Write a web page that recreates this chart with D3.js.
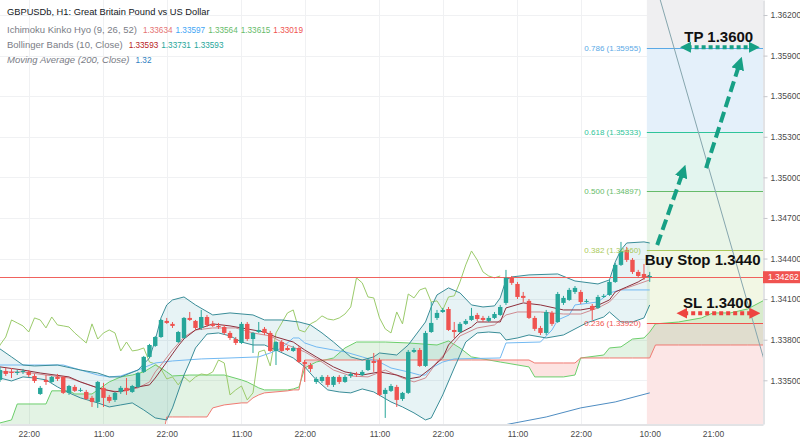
<!DOCTYPE html>
<html lang="en">
<head>
<meta charset="utf-8">
<script src="https://d3js.org/d3.v7.min.js"></script>
<style>
  body { margin: 0; background: #fff; }
  svg { display: block; font-family: "Liberation Sans", Arial, sans-serif; }
</style>
</head>
<body>
<svg id="chart" width="800" height="440"></svg>
<script>
// ---- hourly bars, index 0 = first visible bar ----
const opens = [
  1.33503,1.33569,1.33562,1.33554,1.33562,1.33562,1.33532,1.33399,1.33503,1.33488,
  1.33525,1.33525,1.33407,1.33451,1.33422,1.33414,1.33370,1.33340,1.33444,1.33377,
  1.33355,1.33414,1.33444,1.33414,1.33451,1.33562,1.33673,1.33754,1.33820,1.33939,
  1.33917,1.33783,1.33813,1.33961,1.33939,1.33887,1.33968,1.33917,1.33902,1.33894,
  1.33850,1.33805,1.33776,1.33917,1.33805,1.33857,1.33880,1.33850,1.33717,1.33783,
  1.33739,1.33717,1.33739,1.33635,1.33613,1.33488,1.33495,1.33525,1.33466,1.33525,
  1.33488,1.33532,1.33547,1.33539,1.33576,1.33643,1.33650,1.33399,1.33422,1.33451,
  1.33362,1.33407,1.33710,1.33724,1.33606,1.33857,1.33961,1.34005,1.34027,1.33872,
  1.33857,1.33917,1.33946,1.33983,1.33961,1.33939,1.33961,1.33983,1.34072,1.34257,
  1.34212,1.34124,1.34087,1.33961,1.33887,1.33850,1.33998,1.33931,1.34072,1.34094,
  1.34153,1.34153,1.34079,1.34050,1.34035,1.34116,1.34131,1.34227,1.34353,1.34464,
  1.34390,1.34301,1.34286,1.34264];
const highs = [
  1.33599,1.33591,1.33591,1.33576,1.33584,1.33576,1.33547,1.33458,1.33539,1.33532,
  1.33547,1.33532,1.33466,1.33466,1.33444,1.33429,1.33385,1.33495,1.33481,1.33392,
  1.33414,1.33458,1.33517,1.33466,1.33562,1.33680,1.33769,1.33828,1.33953,1.33961,
  1.33931,1.33865,1.33968,1.34005,1.33946,1.34020,1.33983,1.33939,1.33924,1.33909,
  1.33865,1.33820,1.33931,1.33931,1.33857,1.33931,1.33894,1.33865,1.33791,1.33798,
  1.33754,1.33754,1.33754,1.33650,1.33628,1.33525,1.33539,1.33539,1.33532,1.33539,
  1.33539,1.33562,1.33562,1.33576,1.33665,1.33702,1.33665,1.33444,1.33473,1.33466,
  1.33414,1.33724,1.33739,1.33739,1.33865,1.34079,1.34020,1.34035,1.34042,1.33931,
  1.33931,1.33953,1.34035,1.33998,1.33976,1.33976,1.34005,1.34057,1.34316,1.34271,
  1.34227,1.34153,1.34101,1.33976,1.33902,1.34020,1.34013,1.34153,1.34124,1.34183,
  1.34197,1.34168,1.34101,1.34064,1.34131,1.34138,1.34242,1.34367,1.34523,1.34486,
  1.34404,1.34316,1.34360,1.34301];
const lows = [
  1.33488,1.33532,1.33517,1.33539,1.33547,1.33525,1.33481,1.33392,1.33466,1.33481,
  1.33495,1.33399,1.33392,1.33414,1.33414,1.33355,1.33303,1.33296,1.33303,1.33333,
  1.33340,1.33399,1.33392,1.33407,1.33444,1.33554,1.33665,1.33747,1.33813,1.33917,
  1.33887,1.33776,1.33805,1.33939,1.33872,1.33872,1.33894,1.33894,1.33880,1.33835,
  1.33798,1.33761,1.33769,1.33791,1.33702,1.33850,1.33835,1.33710,1.33613,1.33710,
  1.33717,1.33710,1.33628,1.33488,1.33562,1.33473,1.33481,1.33451,1.33451,1.33473,
  1.33481,1.33517,1.33525,1.33532,1.33569,1.33562,1.33385,1.33222,1.33414,1.33303,
  1.33348,1.33399,1.33702,1.33599,1.33599,1.33850,1.33946,1.33998,1.33865,1.33813,
  1.33850,1.33909,1.33939,1.33939,1.33931,1.33931,1.33953,1.33976,1.34057,1.34205,
  1.34101,1.34079,1.33953,1.33865,1.33835,1.33835,1.33902,1.33924,1.34057,1.34087,
  1.34138,1.34064,1.34072,1.33946,1.34027,1.34109,1.34124,1.34220,1.34345,1.34375,
  1.34286,1.34257,1.34242,1.34227];
const closes = [
  1.33576,1.33547,1.33554,1.33562,1.33569,1.33539,1.33495,1.33444,1.33488,1.33525,
  1.33510,1.33407,1.33458,1.33422,1.33429,1.33362,1.33340,1.33488,1.33370,1.33348,
  1.33407,1.33444,1.33422,1.33458,1.33554,1.33673,1.33761,1.33820,1.33946,1.33924,
  1.33902,1.33857,1.33961,1.33946,1.33887,1.33968,1.33909,1.33902,1.33894,1.33850,
  1.33813,1.33776,1.33917,1.33805,1.33850,1.33872,1.33850,1.33717,1.33783,1.33717,
  1.33724,1.33739,1.33635,1.33621,1.33584,1.33510,1.33525,1.33466,1.33525,1.33488,
  1.33525,1.33547,1.33539,1.33562,1.33650,1.33628,1.33392,1.33429,1.33458,1.33355,
  1.33407,1.33710,1.33724,1.33606,1.33850,1.33924,1.33998,1.34020,1.33872,1.33857,
  1.33917,1.33939,1.33976,1.33953,1.33946,1.33961,1.33990,1.34042,1.34257,1.34220,
  1.34116,1.34109,1.33961,1.33880,1.33850,1.34005,1.33917,1.34138,1.34109,1.34168,
  1.34183,1.34079,1.34087,1.34020,1.34116,1.34124,1.34227,1.34353,1.34456,1.34390,
  1.34301,1.34271,1.34257,1.34271];
const lastPrice = 1.34262;

// axis ticks
const timeTickIdx = [5, 18, 29, 42, 53, 66, 77, 90, 101, 113, 124];
const timeTickLabels = ["22:00","11:00","22:00","11:00","22:00","11:00","22:00","11:00","22:00","10:00","21:00"];
const priceTicks = [1.335, 1.338, 1.341, 1.344, 1.347, 1.350, 1.353, 1.356, 1.359, 1.362];

// Bollinger Bands (10, Close)
const bbUpIdx = [0,2,4,6,10,14,17,19,21,24,26,27,28,29,30,32,34,37,40,44,46,49,52,54,56,58,61,63,65,66,69,71,74,75,76,78,80,82,84,86,87,88,89,92,97,100,104,106,107,108,109,112,113];
const bbUp = [1.33732,1.33673,1.33613,1.33606,1.33613,1.33576,1.33554,1.33525,1.33525,1.33576,
  1.33665,1.33798,1.33961,1.34057,1.34094,1.34116,1.34057,1.33983,1.33998,1.33983,
  1.33946,1.33946,1.33931,1.33909,1.33850,1.33783,1.33673,1.33650,1.33673,1.33702,
  1.33687,1.33761,1.33931,1.34042,1.34131,1.34183,1.34146,1.34057,1.34042,1.34050,
  1.34109,1.34242,1.34264,1.34279,1.34286,1.34234,1.34212,1.34242,1.34375,1.34464,
  1.34515,1.34523,1.34515];
const bbLoIdx = [0,2,4,6,8,10,12,14,17,19,21,23,25,27,29,30,32,33,34,36,38,40,42,44,46,48,51,53,55,57,59,61,63,65,68,70,72,74,75,77,79,81,83,85,87,88,90,92,95,98,102,105,106,108,110,112,113];
const bbLo = [1.33517,1.33495,1.33525,1.33517,1.33503,1.33451,1.33407,1.33370,1.33333,1.33303,
  1.33318,1.33333,1.33281,1.33222,1.33207,1.33296,1.33539,1.33635,1.33739,1.33842,
  1.33850,1.33828,1.33783,1.33761,1.33761,1.33724,1.33665,1.33599,1.33503,1.33429,
  1.33414,1.33407,1.33436,1.33414,1.33340,1.33303,1.33259,1.33207,1.33222,1.33392,
  1.33591,1.33783,1.33850,1.33857,1.33850,1.33798,1.33813,1.33835,1.33813,1.33835,
  1.33924,1.33968,1.34005,1.33931,1.33931,1.33961,1.34057];
const bbMidIdx = [0,4,7,12,14,17,20,22,24,26,27,28,29,30,31,32,34,37,40,44,46,48,51,53,55,58,60,63,66,69,71,73,75,77,78,80,82,83,87,88,91,94,98,101,103,106,107,109,111,113];
const bbMid = [1.33599,1.33576,1.33554,1.33525,1.33488,1.33444,1.33414,1.33429,1.33451,1.33466,
  1.33517,1.33576,1.33635,1.33695,1.33754,1.33806,1.33872,1.33917,1.33902,1.33872,
  1.33857,1.33820,1.33783,1.33724,1.33673,1.33599,1.33562,1.33539,1.33562,1.33539,
  1.33510,1.33525,1.33591,1.33665,1.33761,1.33850,1.33894,1.33931,1.33931,1.34035,
  1.34072,1.34057,1.34020,1.34020,1.34035,1.34094,1.34153,1.34190,1.34227,1.34279];

// Ichimoku Kinko Hyo (9, 26, 52)
const tenkanIdx = [0,4,8,12,15,18,21,24,26,27,28,30,32,34,37,41,44,47,50,53,56,58,61,64,67,70,72,74,76,78,80,83,86,88,90,94,98,101,104,106,108,111,113];
const tenkan = [1.33562,1.33562,1.33539,1.33517,1.33473,1.33429,1.33414,1.33444,1.33488,1.33562,
  1.33613,1.33724,1.33820,1.33872,1.33887,1.33887,1.33850,1.33828,1.33761,1.33710,
  1.33635,1.33576,1.33532,1.33525,1.33576,1.33517,1.33488,1.33517,1.33635,1.33724,
  1.33828,1.33887,1.33909,1.33983,1.34005,1.34005,1.33990,1.33990,1.34035,1.34079,
  1.34168,1.34212,1.34242];
const kijunIdx = [0,8,11,14,17,19,21,24,27,30,35,40,45,47,49,51,52,53,55,58,60,63,66,68,71,73,74,75,77,79,87,88,94,96,97,99,100,104,106,108,113];
const kijun = [1.33613,1.33613,1.33613,1.33576,1.33539,1.33525,1.33532,1.33576,1.33628,1.33643,
  1.33658,1.33665,1.33673,1.33702,1.33739,1.33813,1.33813,1.33776,1.33747,1.33724,
  1.33710,1.33673,1.33635,1.33591,1.33562,1.33539,1.33539,1.33591,1.33635,1.33658,
  1.33665,1.33776,1.33783,1.33872,1.33946,1.33983,1.34057,1.34079,1.34146,1.34168,
  1.34168];
const chikouShift = 26;
const cloudIdx = [0,2,3,8,9,12,13,16,19,21,23,25,27,28,29,30,33,36,37,39,42,43,44,45,46,50,51,52,53,55,58,60,62,67,71,76,78,80,82,84,87,88,92,93,98,100,101,105,106,108,110,112,113,114,118,122,124,127,130,133];
const spanA = [1.33185,1.33207,1.33325,1.33325,1.33422,1.33422,1.33399,1.33399,1.33488,1.33525,
  1.33539,1.33562,1.33613,1.33591,1.33562,1.33532,1.33539,1.33539,1.33539,1.33539,
  1.33503,1.33488,1.33466,1.33444,1.33429,1.33429,1.33436,1.33451,1.33591,1.33635,
  1.33665,1.33739,1.33783,1.33783,1.33776,1.33761,1.33791,1.33739,1.33673,1.33658,
  1.33635,1.33628,1.33599,1.33525,1.33525,1.33539,1.33665,1.33687,1.33739,1.33747,
  1.33805,1.33813,1.33857,1.33917,1.33931,1.33961,1.33998,1.33998,1.34027,1.34094];
const spanB = [1.33019,1.33019,1.33019,1.33019,1.33019,1.33019,1.33019,1.33019,1.33019,1.33019,
  1.33019,1.33019,1.33019,1.33019,1.33229,1.33229,1.33229,1.33229,1.33296,1.33318,
  1.33333,1.33333,1.33370,1.33392,1.33407,1.33422,1.33429,1.33429,1.33650,1.33650,
  1.33650,1.33650,1.33650,1.33650,1.33650,1.33650,1.33650,1.33650,1.33650,1.33650,
  1.33650,1.33650,1.33650,1.33628,1.33628,1.33628,1.33665,1.33665,1.33665,1.33665,
  1.33665,1.33665,1.33665,1.33761,1.33761,1.33761,1.33761,1.33761,1.33761,1.33761];

// Moving Average (200, Close)
const maIdx = [84, 95, 101, 107, 113];
const ma200 = [1.33140, 1.33229, 1.33296, 1.33340, 1.33407];

// legend values
const ichiValues = ["1.33634","1.33597","1.33564","1.33615","1.33019"];
const bbValues = ["1.33593","1.33731","1.33593"];
const maValues = ["1.32"];

// Fibonacci retracement drawing
const fibRatios = [0, 0.236, 0.382, 0.5, 0.618, 0.786, 1];
const fibPrices = [1.33046, 1.33920, 1.34460, 1.34897, 1.35333, 1.35955, 1.36749];
const fibFromIdx = 112.5, fibToIdx = 140;

// trade drawings (bar index, price)
const trendLine = [[114.5, 1.36360], [133.5, 1.33560]];
const upArrows = [[[114.3, 1.34500], [119.2, 1.35092]], [[122.8, 1.35069], [129.0, 1.35890]]];
const tpArrow = [118.2, 132.2, 1.35962];
const slArrow = [117.6, 132.3, 1.33996];
const tradeLabels = [["TP 1.3600", 125.0, 1.36001], ["Buy Stop 1.3440", 122.2, 1.34353], ["SL 1.3400", 124.8, 1.34035]];

// ---------------------------------------------------------------
const svg = d3.select('#chart');
const plotW = 763, plotH = 424;
const x = d3.scaleLinear().domain([0, 132.7]).range([0, plotW]);
const y = d3.scaleLinear().domain([1.33177, 1.36311]).range([plotH, 0]);

const defs = svg.append('defs');
defs.append('clipPath').attr('id', 'plotClip')
  .append('rect').attr('width', plotW).attr('height', plotH);

// grid
const grid = svg.append('g');
grid.selectAll('line.h').data(priceTicks).join('line')
  .attr('x1', 0).attr('x2', plotW)
  .attr('y1', d => Math.round(y(d)) + 0.5).attr('y2', d => Math.round(y(d)) + 0.5)
  .attr('stroke', '#f0f1f3');
grid.selectAll('line.v').data(timeTickIdx).join('line')
  .attr('x1', d => Math.round(x(d)) + 0.5).attr('x2', d => Math.round(x(d)) + 0.5)
  .attr('y1', 0).attr('y2', plotH)
  .attr('stroke', '#f0f1f3');

const plot = svg.append('g').attr('clip-path', 'url(#plotClip)');

// fib zones
const fibLine = ['#9598a1', '#f0544f', '#a9c95a', '#66bb6a', '#2fc49a', '#5aa9e6', '#9598a1'];
const fibFill = ['#efeff1', '#fce6e6', '#f2f7e4', '#e9f5e8', '#e3f5ef', '#e4f0fa', '#efeff1'];
const fibZones = d3.range(fibPrices.length - 1).map(k => ({ lo: fibPrices[k], hi: fibPrices[k + 1], k: k + 1 }));
plot.selectAll('rect.fib').data(fibZones).join('rect')
  .attr('x', x(fibFromIdx)).attr('width', x(fibToIdx) - x(fibFromIdx))
  .attr('y', d => y(d.hi)).attr('height', d => y(d.lo) - y(d.hi))
  .attr('fill', d => fibFill[d.k]);
plot.append('rect').attr('x', x(fibFromIdx)).attr('width', x(fibToIdx) - x(fibFromIdx))
  .attr('y', -10).attr('height', y(fibPrices[6]) + 10).attr('fill', fibFill[6]);

// ichimoku cloud
const cloud = cloudIdx.map((i, k) => ({ i, a: spanA[k], b: spanB[k] }));
defs.append('clipPath').attr('id', 'aboveB').append('path')
  .attr('d', d3.area().x(d => x(d.i)).y0(-50).y1(d => y(d.b))(cloud));
defs.append('clipPath').attr('id', 'aboveA').append('path')
  .attr('d', d3.area().x(d => x(d.i)).y0(-50).y1(d => y(d.a))(cloud));
const between = d3.area().x(d => x(d.i)).y0(d => y(d.a)).y1(d => y(d.b));
plot.append('path').attr('d', between(cloud)).attr('fill', 'rgba(67,175,71,0.15)').attr('clip-path', 'url(#aboveB)');
plot.append('path').attr('d', between(cloud)).attr('fill', 'rgba(244,67,54,0.15)').attr('clip-path', 'url(#aboveA)');

// bollinger fill
const pts = (idx, vals) => idx.map((i, k) => ({ i, p: vals[k] }));
const pLine = d3.line().x(d => x(d.i)).y(d => y(d.p));
const up = pts(bbUpIdx, bbUp), lo = pts(bbLoIdx, bbLo);
plot.append('path').attr('d', pLine(up.concat(lo.slice().reverse())) + 'Z')
  .attr('fill', 'rgba(38,150,165,0.11)');

function drawLine(data, color, w) {
  plot.append('path').datum(data).attr('d', pLine)
    .attr('fill', 'none').attr('stroke', color).attr('stroke-width', w || 1);
}
drawLine(cloud.map(d => ({ i: d.i, p: d.a })), '#6ccf6c');
drawLine(cloud.map(d => ({ i: d.i, p: d.b })), '#f07a72');
drawLine(closes.map((c, i) => ({ i: i - chikouShift, p: c })).filter(d => d.i >= -1), '#9bcb6b');
drawLine(pts(kijunIdx, kijun), '#72b9f2');
drawLine(pts(maIdx, ma200), '#4f8dc2');
drawLine(up, '#3a8d98');
drawLine(lo, '#3a8d98');
drawLine(pts(tenkanIdx, tenkan), '#cf8a90');
drawLine(pts(bbMidIdx, bbMid), '#8e2f3c');

// last price line
plot.append('line').attr('x1', 0).attr('x2', plotW)
  .attr('y1', Math.round(y(lastPrice)) + 0.5).attr('y2', Math.round(y(lastPrice)) + 0.5)
  .attr('stroke', '#f0625d');

// candles
const bars = opens.map((o, i) => ({ i, o, h: highs[i], l: lows[i], c: closes[i] }));
const candleCol = d => d.c >= d.o ? '#26a69a' : '#ef5350';
plot.selectAll('line.wick').data(bars).join('line')
  .attr('x1', d => x(d.i)).attr('x2', d => x(d.i))
  .attr('y1', d => y(d.h)).attr('y2', d => y(d.l))
  .attr('stroke', candleCol).attr('stroke-width', 1);
plot.selectAll('rect.body').data(bars).join('rect')
  .attr('x', d => x(d.i) - 2.2).attr('width', 4.4)
  .attr('y', d => y(Math.max(d.o, d.c)))
  .attr('height', d => Math.max(1, Math.abs(y(d.o) - y(d.c))))
  .attr('fill', candleCol);

// fib level lines + labels
const fibShown = d3.range(1, 6);
plot.selectAll('line.fib').data(fibShown).join('line')
  .attr('x1', x(fibFromIdx)).attr('x2', x(fibToIdx))
  .attr('y1', k => Math.round(y(fibPrices[k])) + 0.5).attr('y2', k => Math.round(y(fibPrices[k])) + 0.5)
  .attr('stroke', k => fibLine[k]);
svg.selectAll('text.fib').data(fibShown).join('text')
  .attr('x', x(fibFromIdx) - 6).attr('y', k => y(fibPrices[k]) + 3)
  .attr('text-anchor', 'end').attr('font-size', 8).attr('fill', k => fibLine[k])
  .text(k => `${fibRatios[k].toFixed(3)} (${fibPrices[k].toFixed(5)})`);

// trend line
plot.append('line')
  .attr('x1', x(trendLine[0][0])).attr('y1', y(trendLine[0][1]))
  .attr('x2', x(trendLine[1][0])).attr('y2', y(trendLine[1][1]))
  .attr('stroke', '#86a6ae').attr('stroke-width', 1);

// arrow markers
function marker(id, color, size) {
  defs.append('marker').attr('id', id).attr('viewBox', '0 0 10 10')
    .attr('refX', 3).attr('refY', 5)
    .attr('markerWidth', size).attr('markerHeight', size)
    .attr('markerUnits', 'userSpaceOnUse').attr('orient', 'auto-start-reverse')
    .append('path').attr('d', 'M0,0L10,5L0,10Z').attr('fill', color);
}
marker('headTeal', '#17a085', 13);
marker('headTealS', '#17a085', 11);
marker('headRed', '#ee4440', 11);

function pullBack(p1, p2, d) {
  const dx = p2[0] - p1[0], dy = p2[1] - p1[1], len = Math.hypot(dx, dy);
  return [p2[0] - dx / len * d, p2[1] - dy / len * d];
}
upArrows.forEach(([a, b]) => {
  const p1 = [x(a[0]), y(a[1])], p2 = [x(b[0]), y(b[1])];
  const e = pullBack(p1, p2, 9);
  svg.append('line').attr('x1', p1[0]).attr('y1', p1[1]).attr('x2', e[0]).attr('y2', e[1])
    .attr('stroke', '#17a085').attr('stroke-width', 4).attr('stroke-dasharray', '11,5')
    .attr('marker-end', 'url(#headTeal)');
});
function doubleArrow(spec, color, head) {
  const [i0, i1, p] = spec;
  svg.append('line').attr('x1', x(i0) + 8).attr('x2', x(i1) - 8)
    .attr('y1', y(p)).attr('y2', y(p))
    .attr('stroke', color).attr('stroke-width', 4).attr('stroke-dasharray', '4,3')
    .attr('marker-start', `url(#${head})`).attr('marker-end', `url(#${head})`);
}
doubleArrow(tpArrow, '#17a085', 'headTealS');
doubleArrow(slArrow, '#ee4440', 'headRed');

svg.selectAll('text.trade').data(tradeLabels).join('text')
  .attr('x', d => x(d[1])).attr('y', d => y(d[2]))
  .attr('text-anchor', 'middle').attr('font-size', 15).attr('font-weight', 'bold')
  .attr('fill', '#111').text(d => d[0]);

// axes
const yAxis = d3.axisRight(y).tickValues(priceTicks).tickFormat(d3.format('.5f'))
  .tickSize(4).tickSizeOuter(0).tickPadding(3);
svg.append('g').attr('transform', `translate(${plotW + 0.5},0)`).call(yAxis)
  .call(g => g.select('.domain').attr('stroke', '#c5c7cc'))
  .call(g => g.selectAll('.tick line').attr('stroke', '#c5c7cc'))
  .call(g => g.selectAll('text').attr('fill', '#4a4a4a').attr('font-size', 8.5)
    .attr('font-family', '"Liberation Sans", Arial, sans-serif'));

const xAxis = d3.axisBottom(x).tickValues(timeTickIdx)
  .tickFormat((d, k) => timeTickLabels[k]).tickSize(0).tickPadding(6);
svg.append('g').attr('transform', `translate(0,${plotH + 0.5})`).call(xAxis)
  .call(g => g.select('.domain').attr('stroke', '#c5c7cc'))
  .call(g => g.selectAll('text').attr('fill', '#4a4a4a').attr('font-size', 8.5)
    .attr('font-family', '"Liberation Sans", Arial, sans-serif'));

// last price tag
const ly = y(lastPrice);
svg.append('rect').attr('x', plotW).attr('y', ly - 6).attr('width', 800 - plotW).attr('height', 12)
  .attr('fill', '#f05350');
svg.append('text').attr('x', plotW + 5).attr('y', ly + 3).attr('font-size', 8.5)
  .attr('fill', '#fff').text(d3.format('.5f')(lastPrice));

// legend
svg.append('text').attr('x', 7).attr('y', 15).attr('font-size', 9.3).attr('fill', '#131722')
  .text('GBPUSDb, H1: Great Britain Pound vs US Dollar');
function legendRow(yb, label, values, colors, italic) {
  const t = svg.append('text').attr('x', 7).attr('y', yb).attr('font-size', 9.5)
    .attr('fill', '#7a7d86').text(label);
  if (italic) t.attr('font-style', 'italic');
  let cx = 7 + t.node().getComputedTextLength() + 6;
  values.forEach((v, k) => {
    const vt = svg.append('text').attr('x', cx).attr('y', yb).attr('font-size', 8.2)
      .attr('fill', colors[k]).text(v);
    cx += vt.node().getComputedTextLength() + 3;
  });
}
legendRow(33, 'Ichimoku Kinko Hyo (9, 26, 52)', ichiValues, ['#e57373', '#42a5f5', '#66bb6a', '#66bb6a', '#ef5350']);
legendRow(48, 'Bollinger Bands (10, Close)', bbValues, ['#b71c1c', '#26a69a', '#26a69a']);
legendRow(63, 'Moving Average (200, Close)', maValues, ['#2f7fc1'], true);
</script>
</body>
</html>
